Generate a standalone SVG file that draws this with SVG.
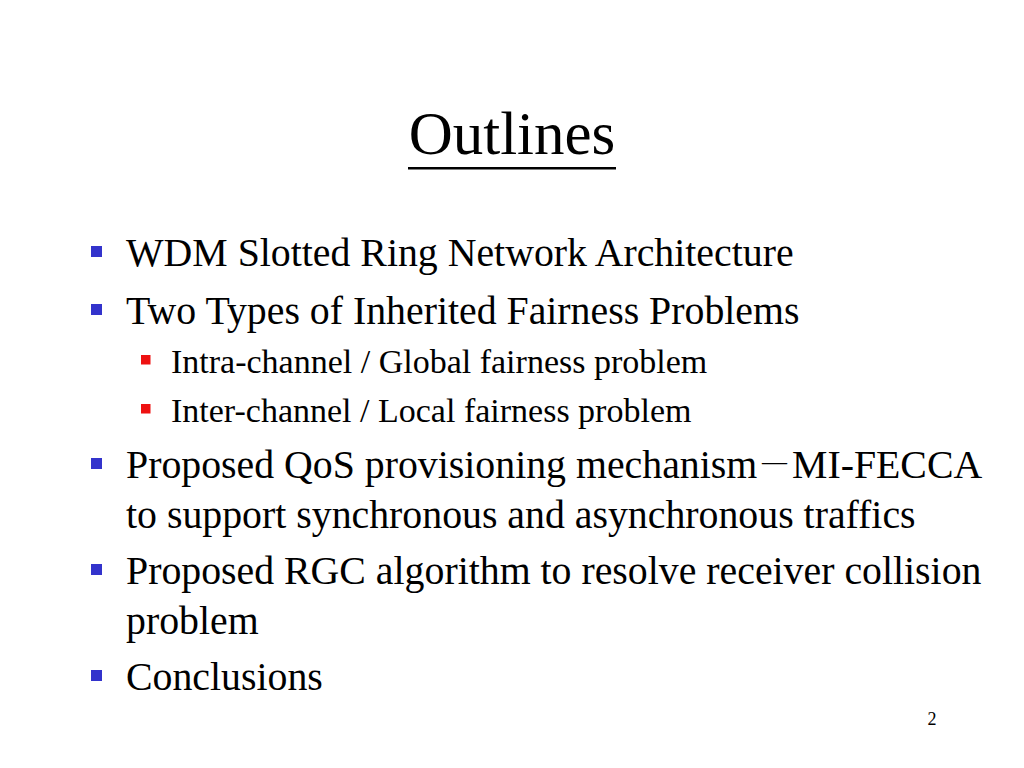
<svg xmlns="http://www.w3.org/2000/svg" width="1024" height="768" viewBox="0 0 1024 768">
<style>
text{font-family:"Liberation Serif","Times New Roman",serif;fill:#000}
.l1{font-size:39.8px}
.l2{font-size:34px}
.b1{fill:#3333cc}
.b2{fill:#ee1111}
</style>
<rect width="1024" height="768" fill="#fff"/>
<g id="title">
<text x="512" y="154" text-anchor="middle" font-size="61">Outlines</text>
<rect x="408" y="167" width="208" height="2.5" fill="#000"/>
</g>
<g id="bullets">
<rect class="b1" x="91" y="246" width="11" height="11"/>
<text class="l1" x="126" y="266">WDM Slotted Ring Network Architecture</text>
<rect class="b1" x="91" y="304" width="11" height="11"/>
<text class="l1" x="126" y="324">Two Types of Inherited Fairness Problems</text>
<rect class="b2" x="141" y="355" width="9.5" height="9.5"/>
<text class="l2" x="171" y="373">Intra-channel / Global fairness problem</text>
<rect class="b2" x="141" y="404" width="9.5" height="9.5"/>
<text class="l2" x="171" y="422">Inter-channel / Local fairness problem</text>
<rect class="b1" x="91" y="458" width="11" height="11"/>
<text class="l1" x="126" y="478">Proposed QoS provisioning mechanism<tspan x="762" dy="-8" font-size="25">—</tspan><tspan x="792" dy="8">MI-FECCA</tspan></text>
<text class="l1" x="126" y="528">to support synchronous and asynchronous traffics</text>
<rect class="b1" x="91" y="564" width="11" height="11"/>
<text class="l1" x="126" y="584">Proposed RGC algorithm to resolve receiver collision</text>
<text class="l1" x="126" y="634">problem</text>
<rect class="b1" x="91" y="670" width="11" height="11"/>
<text class="l1" x="126" y="690">Conclusions</text>
</g>
<text x="932" y="725" font-size="18" text-anchor="middle">2</text>
</svg>
